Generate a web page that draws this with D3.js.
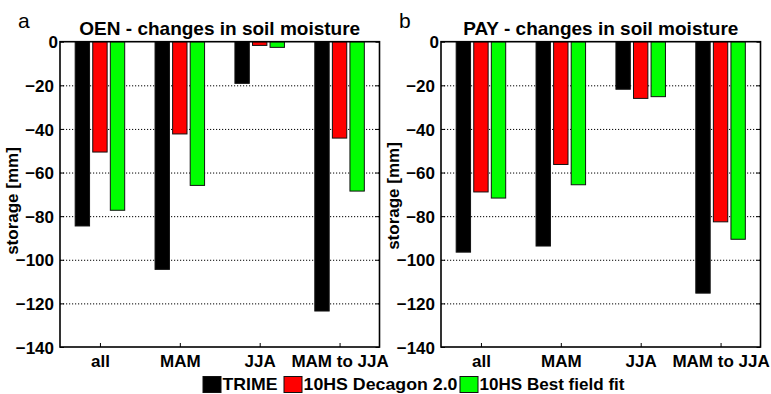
<!DOCTYPE html>
<html>
<head>
<meta charset="utf-8">
<script src="https://cdn.jsdelivr.net/npm/d3@7"></script>
<style>
  html, body { margin: 0; padding: 0; background: #fff; }
  svg { display: block; }
  text { font-family: "Liberation Sans", Arial, Helvetica, sans-serif; }
</style>
</head>
<body>
<svg id="chart" width="771" height="394"></svg>
<script>
// Season groups on the x axis
const categories = ["all", "MAM", "JJA", "MAM to JJA"];
// Sensor / calibration series
const seriesNames = ["TRIME", "10HS Decagon 2.0", "10HS Best field fit"];
const seriesColors = ["#000000", "#ff0000", "#00ff00"];

// OEN site: change in storage [mm]
const oenTrime   = [-84.5, -104.4, -19.1, -123.5];
const oenDecagon = [-50.6, -42.3, -1.7, -44.2];
const oenBestFit = [-77.3, -65.9, -2.6, -68.5];

// PAY site: change in storage [mm]
const payTrime   = [-96.5, -93.7, -21.8, -115.3];
const payDecagon = [-68.9, -56.3, -26.0, -82.6];
const payBestFit = [-71.7, -65.6, -25.2, -90.6];

const yTicks = [0, -20, -40, -60, -80, -100, -120, -140];

const panels = [
  { letter: "a", title: "OEN - changes in soil moisture", series: [oenTrime, oenDecagon, oenBestFit],
    left: 60, labelY: 201 },
  { letter: "b", title: "PAY - changes in soil moisture", series: [payTrime, payDecagon, payBestFit],
    left: 441, labelY: 196 }
];

const plotW = 319.5, plotTop = 41.7, plotBottom = 347;
const svg = d3.select("#chart");
const fontB = "bold";

panels.forEach(p => {
  const x = d3.scaleLinear().domain([0.5, categories.length + 0.5]).range([p.left, p.left + plotW]);
  const y = d3.scaleLinear().domain([-140, 0]).range([plotBottom, plotTop]);
  const g = svg.append("g");

  // dotted grid lines
  g.append("g")
    .attr("transform", `translate(${p.left},0)`)
    .call(d3.axisLeft(y).tickValues(yTicks.filter(v => v !== 0 && v !== -140)).tickSize(-plotW).tickFormat(""))
    .call(s => s.select(".domain").remove())
    .call(s => s.selectAll("line").attr("stroke", "#000").attr("stroke-width", 1).attr("stroke-dasharray", "1.2,1.8"));

  // bars
  const offsets = [-0.22, 0, 0.22];
  const barW = 0.18;
  p.series.forEach((vals, si) => {
    g.append("g").selectAll("rect")
      .data(vals)
      .join("rect")
      .attr("x", (d, i) => x(i + 1 + offsets[si] - barW / 2))
      .attr("width", x(barW) - x(0))
      .attr("y", y(0))
      .attr("height", d => y(d) - y(0))
      .attr("fill", seriesColors[si])
      .attr("stroke", "#111")
      .attr("stroke-width", 1);
  });

  // y axis (left) with inward ticks and labels
  const yAxis = g.append("g")
    .attr("transform", `translate(${p.left},0)`)
    .call(d3.axisLeft(y).tickValues(yTicks).tickSize(-4).tickPadding(7).tickFormat(d3.format("d")));
  yAxis.select(".domain").remove();
  yAxis.selectAll("line").attr("stroke", "#000").attr("stroke-width", 1);
  yAxis.selectAll("text")
    .attr("font-size", 17).attr("font-weight", fontB).attr("fill", "#000")
    .attr("x", d => d === 0 ? -2 : -6)
    .attr("dy", "0.36em");

  // right-side inward ticks
  g.append("g")
    .attr("transform", `translate(${p.left + plotW},0)`)
    .call(d3.axisRight(y).tickValues(yTicks).tickSize(-4).tickFormat(""))
    .call(s => s.select(".domain").remove())
    .call(s => s.selectAll("line").attr("stroke", "#000"));

  // x axis with inward ticks
  const xAxis = g.append("g")
    .attr("transform", `translate(0,${plotBottom})`)
    .call(d3.axisBottom(x).tickValues(d3.range(1, categories.length + 1)).tickSize(-4).tickPadding(0)
      .tickFormat(i => categories[i - 1]));
  xAxis.select(".domain").remove();
  xAxis.selectAll("line").attr("stroke", "#000");
  xAxis.selectAll("text")
    .attr("font-size", 17).attr("font-weight", fontB).attr("fill", "#000")
    .attr("y", 20).attr("dy", 0);

  // frame
  g.append("rect")
    .attr("x", p.left).attr("y", plotTop)
    .attr("width", plotW).attr("height", plotBottom - plotTop)
    .attr("fill", "none").attr("stroke", "#000").attr("stroke-width", 1.6);

  // title
  g.append("text")
    .attr("x", p.left + plotW / 2).attr("y", 35)
    .attr("text-anchor", "middle")
    .attr("font-size", 19).attr("font-weight", fontB)
    .text(p.title);

  // panel letter
  g.append("text")
    .attr("x", p.left - 42).attr("y", 28)
    .attr("font-size", 21)
    .text(p.letter);

  // y label
  g.append("text")
    .attr("transform", `translate(${p.left - 42},${p.labelY}) rotate(-90)`)
    .attr("text-anchor", "middle")
    .attr("font-size", 17).attr("font-weight", fontB)
    .text("storage [mm]");
});

// legend along the bottom: swatch left edge and label width per entry
const legendSlots = [{ x: 203, w: 55 }, { x: 284, w: 154 }, { x: 460, w: 145 }];
const legend = svg.append("g");
seriesNames.forEach((name, i) => {
  const slot = legendSlots[i];
  legend.append("rect")
    .attr("x", slot.x).attr("y", 376.5).attr("width", 18).attr("height", 16)
    .attr("fill", seriesColors[i]).attr("stroke", "#111").attr("stroke-width", 1);
  legend.append("text")
    .attr("x", slot.x + 19.5).attr("y", 390)
    .attr("font-size", 17).attr("font-weight", fontB)
    .attr("textLength", slot.w).attr("lengthAdjust", "spacingAndGlyphs")
    .text(name);
});
</script>
</body>
</html>
